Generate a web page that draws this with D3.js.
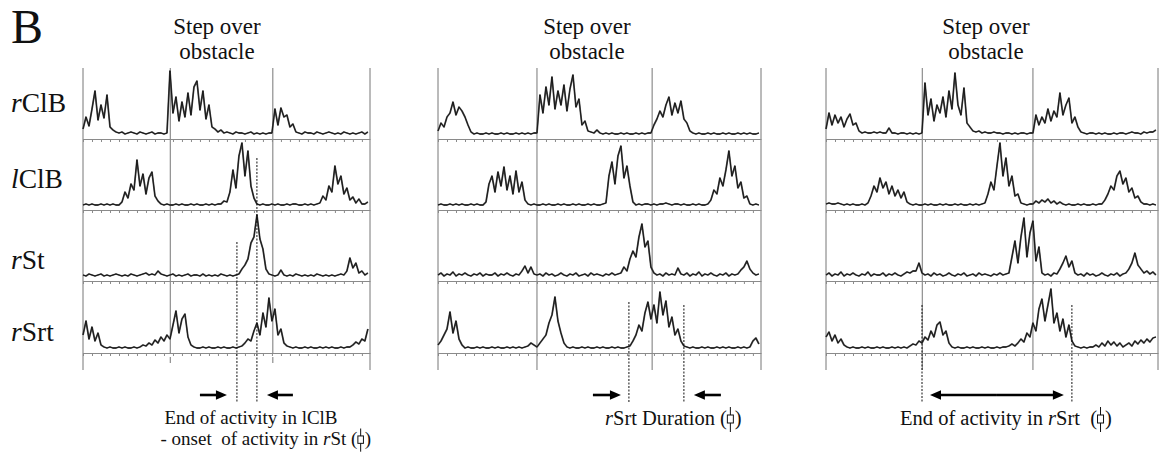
<!DOCTYPE html>
<html><head><meta charset="utf-8">
<script src="https://cdn.jsdelivr.net/npm/d3@7"></script>
<style>
body{margin:0;background:#fff}
svg{display:block}
text{font-family:"Liberation Serif","Times New Roman",serif;fill:#111;white-space:pre}
</style>
</head><body>
<svg id="c" width="1160" height="456"></svg>
<script>
// ---------- DATA ----------
const panelLetter = "B";
const titleLines = ["Step over", "obstacle"];
const musclePrefix = ["r", "l", "r", "r"];
const muscleNames = ["ClB", "ClB", "St", "Srt"];
const sampleRate = 30;               // samples per second
const panelDurations = [3.19, 3.59, 3.69]; // s
const cycleBoundsA = [0, 0.97, 2.11, 3.19];
const cycleBoundsB = [0, 1.10, 2.38, 3.59];
const cycleBoundsC = [0, 1.07, 2.30, 3.69];
const markersA = [1.711, 1.933];
const markersB = [2.122, 2.733];
const markersC = [1.067, 2.733];

// EMG envelopes (arbitrary units), panel A
const p1_rClB = [6,18,9,26,44,15,30,17,40,8,5,3,
 2,3,1,2,3,2,1,3,2,1,2,3,1,2,2,1,2,
 64,22,38,14,33,18,42,20,48,54,25,44,16,30,8,6,3,5,
 2,3,2,1,3,2,2,1,2,3,1,2,1,2,1,2,
 2,26,10,27,18,20,8,11,3,
 2,1,3,2,2,1,3,2,1,2,3,2,1,2,1,3,2,1,2,1,2,3,1,3];
const p1_lClB = [1,2,1,2,1,1,2,1,2,1,2,1,1,
 4,14,8,22,16,46,20,32,12,28,34,10,5,2,
 1,2,1,1,2,1,2,1,1,2,1,2,1,1,2,1,2,1,2,
 2,5,4,14,36,18,50,63,30,55,20,8,2,
 1,2,1,1,2,1,2,1,1,2,1,2,2,1,1,2,1,2,1,2,
 3,10,6,20,14,40,22,30,12,18,6,9,3,7,2,2,4];
const p1_rSt = [2,1,3,2,1,2,3,1,2,1,2,3,2,1,2,1,3,2,1,2,3,4,2,3,2,
 6,3,
 2,1,2,3,1,2,1,2,3,1,2,2,1,3,1,2,1,2,1,3,2,1,2,1,2,
 3,8,12,18,34,40,62,38,28,8,3,
 2,1,2,
 7,2,
 1,2,1,3,2,1,2,1,2,1,3,2,1,2,1,2,1,2,3,2,
 6,19,9,14,4,6,2,4];
const p1_rSrt = [14,28,10,22,8,16,4,
 2,1,2,1,1,2,1,2,1,1,2,1,
 2,4,3,6,4,9,6,12,8,14,10,24,38,16,30,35,12,4,
 2,1,1,2,1,2,1,1,2,1,2,1,1,2,1,2,
 3,6,10,8,18,26,14,36,22,51,28,40,14,20,6,
 3,2,1,2,1,1,2,1,2,1,1,2,1,2,1,2,1,1,2,1,2,2,
 4,7,5,10,8,20];

// panel B
const p2_rClB = [4,12,8,18,22,33,20,28,24,18,10,3,
 1,2,1,1,2,1,2,1,1,2,1,2,1,1,2,1,2,1,2,1,2,
 2,40,22,48,30,58,26,44,30,50,24,46,60,28,36,10,14,4,3,2,5,2,
 1,2,1,2,1,1,2,1,2,1,1,2,1,2,1,2,
 2,10,16,24,18,30,38,20,32,22,34,16,12,4,2,
 1,2,1,1,2,1,2,1,1,2,1,2,1,1,2,1,2,1,2,1,1,2];
const p2_lClB = [1,2,1,1,2,1,2,1,2,1,1,2,1,2,1,1,
 4,22,30,14,34,20,39,16,30,12,35,14,24,6,2,
 1,2,1,1,2,1,2,1,1,2,1,2,1,1,2,1,2,1,1,2,1,2,1,1,2,
 3,30,44,22,50,60,28,40,20,4,1,
 2,1,2,2,1,2,1,2,2,3,2,1,2,2,1,2,1,1,2,1,2,1,1,
 2,6,16,12,28,20,36,55,30,40,18,24,8,10,2,1,2,1];
const p2_rSt = [2,4,1,3,2,5,1,3,2,4,2,1,3,2,4,1,3,2,2,4,1,3,2,4,2,1,3,2,
 6,11,4,10,3,
 2,3,1,4,2,3,1,2,4,2,1,3,2,4,1,2,3,1,4,2,3,2,1,3,2,4,2,3,
 4,10,6,18,26,20,40,53,30,36,10,4,
 2,3,1,4,2,3,2,
 9,3,
 2,4,1,3,2,5,1,3,2,4,2,1,3,2,4,1,3,2,
 3,7,10,16,8,4,2,3];
const p2_rSrt = [4,8,14,20,37,16,28,10,4,
 1,2,1,1,2,1,2,1,1,2,1,2,1,1,2,1,2,1,2,1,2,
 3,6,4,2,6,10,14,26,34,52,28,16,6,
 2,1,2,1,1,2,1,2,1,1,2,1,2,1,1,2,1,2,1,1,2,
 3,8,14,24,18,36,47,30,44,26,57,34,48,22,32,14,20,8,3,
 2,1,2,1,1,2,1,2,1,1,2,1,2,1,2,1,1,2,1,2,1,
 2,8,11,5];

// panel C
const p3_rClB = [6,22,10,20,12,18,8,16,21,10,12,4,
 2,3,2,2,3,2,3,2,2,
 7,2,
 2,1,2,2,1,2,1,2,1,2,
 52,20,36,14,30,22,38,18,44,26,62,30,20,47,12,8,4,3,4,2,
 3,2,2,3,2,2,1,2,2,1,2,1,2,2,1,2,2,
 20,10,18,12,26,14,24,18,42,20,30,37,12,18,8,3,
 2,1,2,2,1,2,1,2,1,1,2,1,2,2,1,2,3,2,2,1,3,2,3,
 3,5];
const p3_lClB = [2,3,2,2,3,2,1,2,1,2,1,1,2,1,
 3,10,20,14,28,18,24,12,20,10,16,8,14,4,2,
 1,2,1,1,2,1,2,1,1,2,1,2,1,1,2,1,2,1,1,2,1,2,1,2,
 3,12,24,16,40,63,30,48,20,30,10,12,3,2,1,2,2,
 5,3,6,4,7,3,5,2,4,2,
 1,2,1,1,2,1,2,1,1,2,1,2,2,
 6,12,20,16,30,35,22,28,14,18,8,10,4,2,
 2,1,2,1];
const p3_rSt = [2,4,1,3,2,5,1,3,2,4,2,1,3,2,5,1,3,2,2,4,1,3,2,4,2,1,3,5,4,6,
 6,14,4,
 2,3,1,4,2,3,1,2,4,2,1,3,2,4,1,2,3,1,4,2,3,2,1,3,2,4,2,3,
 4,20,36,14,40,59,20,44,56,16,30,4,
 2,3,1,4,
 3,8,14,21,10,16,4,
 2,3,1,4,2,3,1,2,4,2,1,3,2,4,1,3,
 4,8,14,24,12,8,4,6,3,5,2];
const p3_rSrt = [12,17,8,14,6,10,4,2,
 1,2,1,1,2,1,2,1,1,2,1,2,1,1,2,1,2,1,2,1,
 3,5,4,8,6,12,9,18,12,24,27,14,18,6,2,
 1,2,1,1,2,1,2,1,1,2,1,2,1,1,2,1,2,2,
 3,5,3,6,10,7,16,12,26,18,40,50,28,44,60,26,36,18,30,12,24,8,3,
 2,1,2,1,2,2,
 4,2,6,3,8,4,7,3,6,2,4,6,3,8,5,9,6,10,7,11,12];

const noteA1 = "End of activity in lClB";
const noteA2 = ["- onset  of activity in ", "r", "St ("];
const noteB = ["", "r", "Srt Duration ("];
const noteC = ["End of activity in ", "r", "Srt  ("];

// ---------- LAYOUT ----------
const svg = d3.select("#c");
const rowSep = [139, 210, 281, 353];
const rowTop = 68;
const panels = [
  {x0: 83,  x1: 370,  dur: panelDurations[0], bounds: cycleBoundsA, markers: markersA,
   series: [p1_rClB, p1_lClB, p1_rSt, p1_rSrt], titleX: 217, markTop: [242, 158], midFull: false},
  {x0: 438, x1: 761,  dur: panelDurations[1], bounds: cycleBoundsB, markers: markersB,
   series: [p2_rClB, p2_lClB, p2_rSt, p2_rSrt], titleX: 587, markTop: [302, 305], midFull: true},
  {x0: 826, x1: 1158, dur: panelDurations[2], bounds: cycleBoundsC, markers: markersC,
   series: [p3_rClB, p3_lClB, p3_rSt, p3_rSrt], titleX: 986, markTop: [305, 305], midFull: true}
];

svg.append("text").attr("x", 11).attr("y", 43).attr("font-size", 48).text(panelLetter);

// row labels
const labelBase = [112, 188, 269, 341];
muscleNames.forEach((m, r) => {
  const t = svg.append("text").attr("x", 11).attr("y", labelBase[r]).attr("font-size", 27.5);
  t.append("tspan").attr("font-style", "italic").text(musclePrefix[r]);
  t.append("tspan").text(m);
});

function arrow(g, xTail, xTip, y) {
  const dir = Math.sign(xTip - xTail);
  g.append("line").attr("x1", xTail).attr("x2", xTip - dir * 8).attr("y1", y).attr("y2", y)
    .attr("stroke", "#000").attr("stroke-width", 2.6);
  g.append("path").attr("d", `M${xTip},${y}L${xTip - dir * 11},${y - 4.8}L${xTip - dir * 11},${y + 4.8}Z`)
    .attr("fill", "#000");
}

panels.forEach((p, pi) => {
  const g = svg.append("g");
  const x = d3.scaleLinear().domain([0, p.dur]).range([p.x0, p.x1]);

  // title, two lines
  titleLines.forEach((s, k) => {
    g.append("text").attr("x", p.titleX).attr("y", 33.5 + k * 25.6).attr("text-anchor", "middle")
      .attr("font-size", 23).text(s);
  });

  // cycle boundaries
  p.bounds.forEach((b, k) => {
    const outer = (k === 0 || k === p.bounds.length - 1);
    g.append("line").attr("x1", x(b)).attr("x2", x(b)).attr("y1", rowTop)
      .attr("y2", outer || p.midFull ? 370 : rowSep[3])
      .attr("stroke", "#777").attr("stroke-width", 1);
    if (!outer && !p.midFull) {
      g.append("line").attr("x1", x(b)).attr("x2", x(b)).attr("y1", 357).attr("y2", 363)
        .attr("stroke", "#777").attr("stroke-width", 1);
    }
  });

  // rows
  p.series.forEach((vals, r) => {
    const sep = rowSep[r];
    const y = d3.scaleLinear().domain([0, 70]).range([sep - 4, sep - 74]);
    const ax = g.append("g").attr("transform", `translate(0,${sep})`)
      .call(d3.axisBottom(x).tickValues(d3.range(0, p.dur + 1e-6, 0.1)).tickSize(3).tickSizeOuter(0).tickFormat(""));
    ax.selectAll("path,line").attr("stroke", "#8a8a8a");
    const line = d3.line().x((d, i) => x(i / sampleRate)).y(d => y(d));
    g.append("path").datum(vals).attr("d", line).attr("fill", "none")
      .attr("stroke", "#555").attr("stroke-width", 1.8).attr("stroke-linejoin", "round");
    g.append("path").datum(vals).attr("d", line).attr("fill", "none")
      .attr("stroke", "#111").attr("stroke-width", 0.9).attr("stroke-linejoin", "round");
  });

  // dashed markers
  p.markers.forEach((m, k) => {
    g.append("line").attr("x1", x(m)).attr("x2", x(m)).attr("y1", p.markTop[k]).attr("y2", 402)
      .attr("stroke", "#111").attr("stroke-width", 1).attr("stroke-dasharray", "2,1.5");
  });

  // arrows
  const ay = 395;
  const m0 = x(p.markers[0]), m1 = x(p.markers[1]);
  if (pi === 0) { arrow(g, m0 - 37, m0 - 10, ay); arrow(g, m1 + 36, m1 + 10, ay); }
  if (pi === 1) { arrow(g, m0 - 36, m0 - 8, ay); arrow(g, m1 + 37, m1 + 10, ay); }
  if (pi === 2) { arrow(g, (m0 + m1) / 2, m0 + 8, ay); arrow(g, (m0 + m1) / 2, m1 - 8, ay); }
});

// notes with the box-plot symbol
function note(x0, yb, fs, parts, centerX) {
  const t = svg.append("text").attr("y", yb).attr("font-size", fs);
  t.append("tspan").text(parts[0]);
  t.append("tspan").attr("font-style", "italic").text(parts[1]);
  t.append("tspan").text(parts[2]);
  const w = t.node().getComputedTextLength();
  const k = fs / 20.5;
  if (centerX !== undefined) x0 = centerX - (w + 13 * k) / 2;
  t.attr("x", x0);
  const gx = x0 + w + 3.5 * k;
  svg.append("line").attr("x1", gx).attr("x2", gx).attr("y1", yb - 18 * k).attr("y2", yb + 7 * k)
    .attr("stroke", "#111").attr("stroke-width", 1);
  svg.append("rect").attr("x", gx - 3 * k).attr("y", yb - 10 * k).attr("width", 6 * k).attr("height", 8 * k)
    .attr("fill", "#fff").attr("stroke", "#111").attr("stroke-width", 1);
  svg.append("text").attr("x", gx + 4.5 * k).attr("y", yb).attr("font-size", fs).text(")");
}
svg.append("text").attr("x", 251).attr("y", 424).attr("text-anchor", "middle")
  .attr("font-size", 19).text(noteA1);
note(0, 445.2, 19, noteA2, 265);
note(605, 425, 20.5, noteB);
note(900, 425, 20.5, noteC);
</script>
</body></html>
